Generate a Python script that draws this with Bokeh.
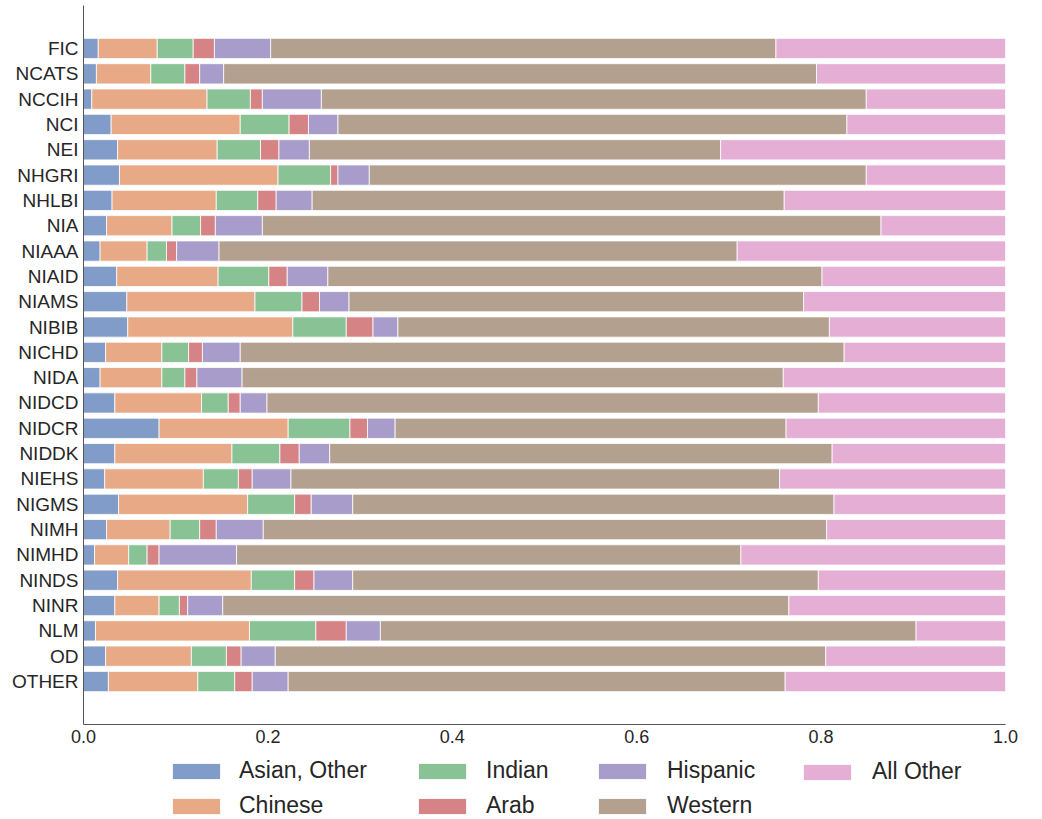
from bokeh.plotting import figure
from bokeh.layouts import column
from bokeh.models import (Range1d, FixedTicker, Legend, LegendItem,
                          ColumnDataSource, PrintfTickFormatter)
from bokeh.embed import file_html
from bokeh.resources import INLINE

institutes = ["FIC", "NCATS", "NCCIH", "NCI", "NEI", "NHGRI", "NHLBI", "NIA",
              "NIAAA", "NIAID", "NIAMS", "NIBIB", "NICHD", "NIDA", "NIDCD",
              "NIDCR", "NIDDK", "NIEHS", "NIGMS", "NIMH", "NIMHD", "NINDS",
              "NINR", "NLM", "OD", "OTHER"]

asian_other = [0.016, 0.014, 0.009, 0.030, 0.037, 0.039, 0.031, 0.025, 0.018,
               0.036, 0.047, 0.048, 0.024, 0.018, 0.034, 0.082, 0.034, 0.023,
               0.038, 0.025, 0.012, 0.037, 0.034, 0.013, 0.024, 0.027]
chinese = [0.064, 0.059, 0.125, 0.140, 0.108, 0.172, 0.113, 0.071, 0.051,
           0.110, 0.139, 0.179, 0.061, 0.067, 0.094, 0.140, 0.127, 0.107,
           0.140, 0.069, 0.037, 0.145, 0.048, 0.167, 0.093, 0.097]
indian = [0.039, 0.037, 0.047, 0.053, 0.047, 0.057, 0.045, 0.031, 0.021,
          0.055, 0.051, 0.058, 0.029, 0.025, 0.029, 0.067, 0.052, 0.038,
          0.051, 0.032, 0.020, 0.047, 0.022, 0.072, 0.038, 0.040]
arab = [0.023, 0.016, 0.013, 0.021, 0.020, 0.008, 0.020, 0.016, 0.011,
        0.020, 0.019, 0.029, 0.015, 0.013, 0.013, 0.019, 0.021, 0.015,
        0.018, 0.018, 0.013, 0.021, 0.009, 0.033, 0.016, 0.019]
hispanic = [0.061, 0.026, 0.064, 0.032, 0.033, 0.034, 0.039, 0.051, 0.046,
            0.044, 0.032, 0.027, 0.041, 0.049, 0.029, 0.030, 0.033, 0.042,
            0.045, 0.051, 0.084, 0.042, 0.038, 0.037, 0.037, 0.039]
western = [0.548, 0.643, 0.591, 0.552, 0.446, 0.539, 0.512, 0.671, 0.562,
           0.536, 0.493, 0.468, 0.655, 0.587, 0.598, 0.424, 0.545, 0.530,
           0.522, 0.611, 0.547, 0.505, 0.614, 0.581, 0.597, 0.539]
all_other = [0.249, 0.205, 0.151, 0.172, 0.309, 0.151, 0.240, 0.135, 0.291,
             0.199, 0.219, 0.191, 0.175, 0.241, 0.203, 0.238, 0.188, 0.245,
             0.186, 0.194, 0.287, 0.203, 0.235, 0.097, 0.195, 0.239]

group_labels = ["Asian, Other", "Chinese", "Indian", "Arab", "Hispanic",
                "Western", "All Other"]
group_keys = ["asian_other", "chinese", "indian", "arab", "hispanic",
              "western", "all_other"]
x_ticks = [0.0, 0.2, 0.4, 0.6, 0.8, 1.0]

colors = ["#4c72b0", "#dd8452", "#55a868", "#c44e52", "#8172b3", "#937860",
          "#da8bc3"]
FONT = "Liberation Sans"
TEXT = "#262626"
TOTAL_W = 1035
FRAME_LEFT = 83

n = len(institutes)
ypos = [n - 1 - i for i in range(n)]
source = ColumnDataSource(dict(
    y=ypos, name=institutes, asian_other=asian_other, chinese=chinese,
    indian=indian, arab=arab, hispanic=hispanic, western=western,
    all_other=all_other))

pad = 1.698
p = figure(frame_width=922, frame_height=719,
           x_range=Range1d(0, 1), y_range=Range1d(-pad, n - 1 + pad),
           output_backend="svg", toolbar_location=None,
           min_border_left=FRAME_LEFT, min_border_right=TOTAL_W - FRAME_LEFT - 922,
           min_border_top=5, min_border_bottom=30)

bar_style = dict(fill_color=colors, fill_alpha=0.7, line_color="white",
                 line_width=1, line_alpha=0.8)
renderers = p.hbar_stack(group_keys, y="y", height=0.8, source=source,
                         **bar_style)

p.outline_line_color = None
p.xgrid.visible = False
p.ygrid.visible = False

xa = p.xaxis[0]
xa.ticker = FixedTicker(ticks=x_ticks)
xa.formatter = PrintfTickFormatter(format="%.1f")
ya = p.yaxis[0]
ya.ticker = FixedTicker(ticks=ypos)
ya.major_label_overrides = {y: name for y, name in zip(ypos, institutes)}
for ax in (xa, ya):
    ax.major_tick_out = 0
    ax.major_tick_in = 0
    ax.minor_tick_out = 0
    ax.minor_tick_in = 0
    ax.axis_line_color = "#555555"
    ax.axis_line_width = 1
    ax.major_label_text_font = FONT
    ax.major_label_text_color = TEXT
xa.major_label_text_font_size = "18px"
ya.major_label_text_font_size = "19px"
xa.major_label_standoff = 5
ya.major_label_standoff = 5

# ---- legend strip below the chart ----
# (its frame is aligned with the chart's frame by the column layout)
LEG_H = 64
lf = figure(width=TOTAL_W, height=LEG_H, x_range=Range1d(0, 1),
            y_range=Range1d(1000, 1001), x_axis_type=None, y_axis_type=None,
            output_backend="svg", toolbar_location=None,
            min_border_left=FRAME_LEFT, min_border_right=TOTAL_W - FRAME_LEFT - 922,
            min_border_top=0, min_border_bottom=0)
lf.outline_line_color = None
# same stacked bars, kept outside this strip's visible range: used for legend swatches
proxies = lf.hbar_stack(group_keys, y="y", height=0.8, source=source,
                        **bar_style)

legend_columns = [[0, 1], [2, 3], [4, 5], [6]]
swatch_x = [172, 418, 598, 803]
label_x = [239, 486, 667, 872]
glyph_w, glyph_h = 60, 20      # area swatches are drawn inset by 10%
item_h = 26
pitch = 34
row1_from_bottom = 46
for cols, sx, lx in zip(legend_columns, swatch_x, label_x):
    items = [LegendItem(label=group_labels[i], renderers=[proxies[i]])
             for i in cols]
    height = item_h + (len(cols) - 1) * pitch
    bottom = row1_from_bottom + item_h / 2 - height
    x0 = sx - glyph_w * 0.1
    leg = Legend(items=items, orientation="vertical",
                 location=(x0 - FRAME_LEFT, bottom),
                 label_text_font=FONT, label_text_font_size="23px",
                 label_text_color=TEXT,
                 glyph_width=glyph_w, glyph_height=glyph_h, label_height=item_h,
                 label_standoff=int(round(lx - x0 - glyph_w)),
                 spacing=pitch - item_h,
                 padding=0, margin=0, border_line_color=None,
                 background_fill_alpha=0)
    lf.add_layout(leg)

layout = column(p, lf, spacing=0)
open("out.html", "w").write(file_html(layout, INLINE))
